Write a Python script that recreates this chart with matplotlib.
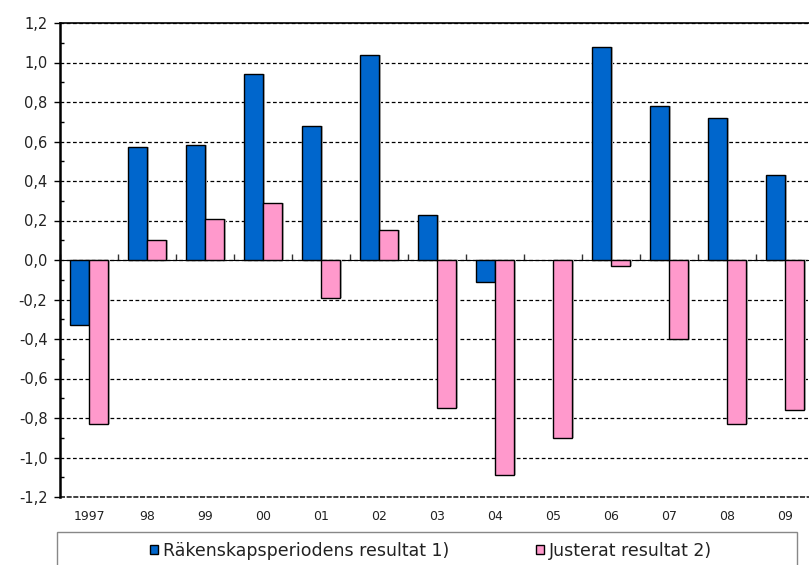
import numpy as np
import matplotlib
matplotlib.use("Agg")
import matplotlib.pyplot as plt
from matplotlib.patches import Rectangle, Patch

categories = ["1997", "98", "99", "00", "01", "02", "03", "04", "05", "06", "07", "08", "09"]
rakenskap = [-0.33, 0.57, 0.58, 0.94, 0.68, 1.04, 0.23, -0.11, np.nan, 1.08, 0.78, 0.72, 0.43]
justerat = [-0.83, 0.10, 0.21, 0.29, -0.19, 0.15, -0.75, -1.09, -0.90, -0.03, -0.40, -0.83, -0.76]
yticks = [-1.2, -1.0, -0.8, -0.6, -0.4, -0.2, 0.0, 0.2, 0.4, 0.6, 0.8, 1.0, 1.2]
series_names = ["Räkenskapsperiodens resultat 1)", "Justerat resultat 2)"]

blue = "#0066CC"
pink = "#FF99CC"

W, H = 809, 565
fig = plt.figure(figsize=(W / 100, H / 100), dpi=100)
plt.rcParams['font.family'] = ['DejaVu Sans']
ax = fig.add_axes([60 / W, 1 - 497 / H, 754 / W, 474 / H])

x = np.arange(len(categories))
bw = 0.33
shadow_off = 0.03
ax.bar(x - bw / 2 + shadow_off, rakenskap, bw, color="#bbbbbb", zorder=2, linewidth=0)
ax.bar(x + bw / 2 + shadow_off, justerat, bw, color="#bbbbbb", zorder=2, linewidth=0)
ax.bar(x - bw / 2, rakenskap, bw, color=blue, edgecolor="black", linewidth=1.0, zorder=3)
ax.bar(x + bw / 2, justerat, bw, color=pink, edgecolor="black", linewidth=1.0, zorder=3)

ax.set_xlim(-0.5, len(categories) - 0.5)
ax.set_ylim(-1.2, 1.2)
ax.set_yticks(yticks)
ax.set_yticklabels([f"{v:.1f}".replace(".", ",") for v in yticks], fontsize=10.5, color="#222222")
ax.set_yticks(np.arange(-1.1, 1.2, 0.2), minor=True)
ax.tick_params(axis="y", which="major", direction="out", length=4, width=1, pad=5)
ax.tick_params(axis="y", which="minor", direction="in", length=3, width=1)

ax.set_xticks(x)
ax.set_xticklabels(categories, fontsize=9, color="#222222")
ax.tick_params(axis="x", length=0, pad=9)

ax.yaxis.grid(True, linestyle=(0, (3, 2)), color="black", linewidth=0.9, zorder=1)
ax.set_axisbelow(True)
ax.axhline(-1.2, linestyle=(0, (3, 1)), color="#222222", linewidth=1.2, clip_on=False, zorder=1)

for s in ["right", "bottom"]:
    ax.spines[s].set_visible(False)
ax.spines["left"].set_linewidth(1.8)
ax.spines["top"].set_linewidth(1.2)

sec = ax.secondary_xaxis(0.5)
sec.set_xticks(np.arange(-0.5, len(categories), 1.0))
sec.set_xticklabels([])
sec.tick_params(direction="out", length=4, width=1, color="#333333")
sec.spines["bottom"].set_linewidth(1.2)
sec.spines["bottom"].set_color("black")

# legend box
fig.patches.append(Rectangle((57 / W, -0.05), 740 / W, 0.05 + (565 - 532) / H,
                             transform=fig.transFigure, fill=False,
                             edgecolor="#888888", linewidth=1.0))
handles = [Patch(facecolor=blue, edgecolor="black", linewidth=1.0),
           Patch(facecolor=pink, edgecolor="black", linewidth=1.0)]
fig.legend(handles, series_names, loc="center", bbox_to_anchor=(431 / W, 1 - 551 / H),
           ncol=2, frameon=False, fontsize=12.5, handlelength=0.45, handleheight=0.45,
           handletextpad=0.3, columnspacing=5.0, borderaxespad=0, borderpad=0,
           labelcolor="#222222")

fig.savefig("out.png", dpi=100)
